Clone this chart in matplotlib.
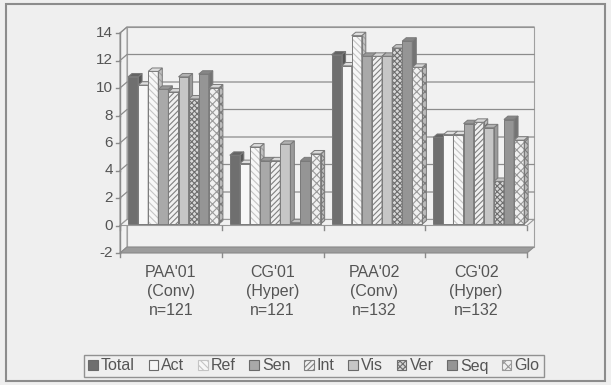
import matplotlib
matplotlib.use('Agg')
import matplotlib.pyplot as plt
from matplotlib.patches import Polygon, Rectangle, Patch

plt.rcParams['font.family'] = ['Liberation Sans', 'DejaVu Sans']
plt.rcParams['hatch.linewidth'] = 0.8

# data
groups = ["PAA'01\n(Conv)\nn=121", "CG'01\n(Hyper)\nn=121",
          "PAA'02\n(Conv)\nn=132", "CG'02\n(Hyper)\nn=132"]
series = ['Total', 'Act', 'Ref', 'Sen', 'Int', 'Vis', 'Ver', 'Seq', 'Glo']
total = [10.7, 5.0, 12.3, 6.3]
act = [10.1, 4.4, 11.5, 6.5]
ref = [11.1, 5.6, 13.7, 6.5]
sen = [9.8, 4.6, 12.2, 7.3]
int_ = [9.6, 4.6, 12.2, 7.4]
vis = [10.7, 5.8, 12.2, 7.0]
ver = [9.1, 0.1, 12.8, 3.1]
seq = [10.9, 4.6, 13.3, 7.6]
glo = [9.9, 5.1, 11.4, 6.1]
values = [total, act, ref, sen, int_, vis, ver, seq, glo]
yticks = list(range(-2, 15, 2))

# face colour, hatch, hatch colour for each series
styles = [
    ('#6f6f6f', None, None),
    ('#f7f7f7', None, None),
    ('#f7f7f7', '\\\\\\\\\\', '#c4c4c4'),
    ('#a9a9a9', None, None),
    ('#f0f0f0', '//////', '#808080'),
    ('#c6c6c6', None, None),
    ('#d8d8d8', 'xxxxxx', '#6e6e6e'),
    ('#959595', None, None),
    ('#f0f0f0', 'xxxx', '#9a9a9a'),
]

BG = '#efefef'
WALL = '#f1f1f1'
LINE = '#8a8a8a'
TXT = '#555555'

W, H = 611, 385
fig = plt.figure(figsize=(W / 100, H / 100), dpi=100, facecolor=BG)
ax = fig.add_axes([120 / W, (H - 253) / H, 407 / W, 220 / H])
ax.set_xlim(0, 4)
ax.set_ylim(-2, 14)
ax.axis('off')

pxx = 4 / 407.0   # data units per pixel
pxy = 16 / 220.0
DX, DY = 7 * pxx, 6 * pxy          # wall depth
OX, OY = 2 * pxx, 1.5 * pxy        # bars sit mid-depth
BDX, BDY = 4 * pxx, 3.4 * pxy      # bar depth
PITCH = 10.1 * pxx
START = 8 * pxx - OX


def poly(pts, **kw):
    ax.add_patch(Polygon(pts, closed=True, clip_on=False, **kw))


def shade(c, f=0.78):
    r, g, b = matplotlib.colors.to_rgb(c)
    return (r * f, g * f, b * f)


# back wall and side wall
poly([(DX, -2 + DY), (4 + DX, -2 + DY), (4 + DX, 14 + DY), (DX, 14 + DY)],
     facecolor=WALL, edgecolor='#a0a0a0', lw=0.8)
poly([(0, -2), (DX, -2 + DY), (DX, 14 + DY), (0, 14)],
     facecolor=WALL, edgecolor='#a0a0a0', lw=0.8)
for v in yticks[1:]:
    ax.plot([0, DX, 4 + DX], [v, v + DY, v + DY], color='#8c8c8c', lw=0.9,
            clip_on=False, zorder=1)

# floor at -2 and the plane at 0
poly([(0, -2), (4, -2), (4 + DX, -2 + DY), (DX, -2 + DY)],
     facecolor='#9c9c9c', edgecolor='#8a8a8a', lw=0.8, zorder=2)
poly([(0, 0), (4, 0), (4 + DX, DY), (DX, DY)],
     facecolor=WALL, edgecolor='#9a9a9a', lw=0.8, zorder=2)

# value axis
ax.plot([0, 0], [-2, 14], color=LINE, lw=1.0, clip_on=False, zorder=3)
for v in yticks:
    ax.plot([-4 * pxx, 0], [v, v], color=LINE, lw=1.0, clip_on=False, zorder=3)
    ax.text(-7 * pxx, v, str(v), ha='right', va='center', fontsize=11,
            color=TXT)

# category ticks at 0 and -2
for i in range(5):
    for base in (0, -2):
        ax.plot([i, i], [base, base - 4 * pxy], color=LINE, lw=1.0,
                clip_on=False, zorder=3)

# 3D columns
z = 5
for gi in range(len(groups)):
    for si, vals in enumerate(values):
        face, hatch, hc = styles[si]
        h = vals[gi]
        x0 = gi + START + si * PITCH + OX
        x1 = x0 + PITCH
        side = shade(face)
        top = shade(face, 0.9)
        ax.bar(x0, h, PITCH, bottom=OY, align='edge', color=face,
               edgecolor=hc if hatch else face, hatch=hatch, lw=0,
               zorder=z, clip_on=False)
        ax.bar(x0, h, PITCH, bottom=OY, align='edge', fill=False,
               edgecolor='#7a7a7a', lw=0.7, zorder=z + 0.1, clip_on=False)
        side_pts = [(x1, OY), (x1 + BDX, OY + BDY), (x1 + BDX, OY + h + BDY),
                    (x1, OY + h)]
        poly(side_pts, facecolor=side,
             edgecolor=shade(hc, 0.8) if hatch else side,
             hatch=hatch, lw=0, zorder=z)
        poly(side_pts, fill=False, edgecolor='#7a7a7a', lw=0.7, zorder=z + 0.1)
        poly([(x0, OY + h), (x0 + BDX, OY + h + BDY),
              (x1 + BDX, OY + h + BDY), (x1, OY + h)], facecolor=top,
             edgecolor='#7a7a7a', lw=0.7, zorder=z + 0.1)
        z += 0.2

# category labels
for gi, g in enumerate(groups):
    ax.text(gi + 0.5, -2 - 12 * pxy, g, ha='center', va='top', fontsize=11.5,
            color=TXT, linespacing=1.32)

# legend
handles = []
for face, hatch, hc in styles:
    handles.append(Patch(facecolor=face, edgecolor=hc if hatch else '#6a6a6a',
                         hatch=hatch, lw=0.8))
leg = fig.legend(handles, series, loc='center',
                 bbox_to_anchor=(314 / W, 1 - 366 / H), ncol=9,
                 fontsize=11.5, frameon=True, fancybox=False,
                 handlelength=0.6, handleheight=0.6, handletextpad=0.2,
                 columnspacing=0.85, borderpad=0.25, borderaxespad=0)
leg.get_frame().set_edgecolor('#7a7a7a')
leg.get_frame().set_facecolor(BG)
leg.get_frame().set_linewidth(1.0)
for t in leg.get_texts():
    t.set_color(TXT)

# outer frame
fig.add_artist(Rectangle((6 / W, 4 / H), 599 / W, 377 / H, fill=False,
                         edgecolor='#8c8c8c', lw=1.5,
                         transform=fig.transFigure))

fig.savefig('out.png', dpi=100, facecolor=BG)
